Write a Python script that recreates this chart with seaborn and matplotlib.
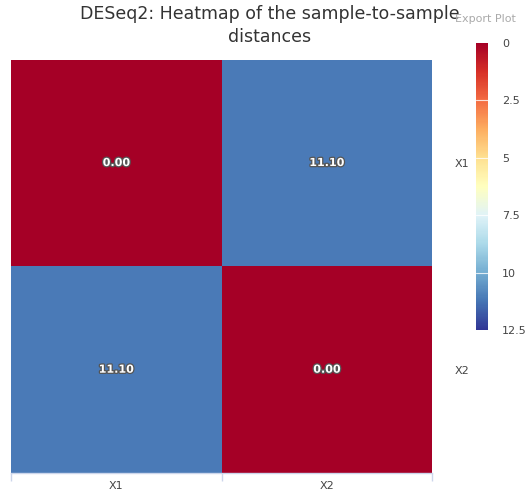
import numpy as np
import pandas as pd
import matplotlib
matplotlib.use('Agg')
import matplotlib.pyplot as plt
import matplotlib.patheffects as pe
import seaborn as sns

## data
samples = ['X1', 'X2']
row_x1 = [0.00, 11.10]
row_x2 = [11.10, 0.00]
cbar_ticks = [0, 2.5, 5, 7.5, 10, 12.5]

dist = pd.DataFrame([row_x1, row_x2], index=samples, columns=samples)

sns.set_style('white')
plt.rcParams['font.family'] = ['DejaVu Sans']

fig = plt.figure(figsize=(5.29, 4.95), dpi=100)
ax = fig.add_axes([0.0208, 0.0444, 0.796, 0.835])
cax = fig.add_axes([0.8998, 0.333, 0.0227, 0.580])

sns.heatmap(dist, ax=ax, cbar_ax=cax, cmap='RdYlBu', vmin=0, vmax=12.5,
            annot=True, fmt='.2f', linewidths=0,
            annot_kws={'color': 'white', 'fontsize': 8, 'fontweight': 'bold',
                       'path_effects': [pe.withStroke(linewidth=1.8, foreground='#555555')]},
            cbar_kws={'ticks': cbar_ticks})

# axes styling
ax.yaxis.tick_right()
ax.tick_params(axis='y', length=0, labelsize=8, labelcolor='#444444', pad=16, rotation=0)
ax.set_xticks([0, 1, 2], minor=False)
ax.set_xticklabels([])
ax.tick_params(axis='x', which='major', bottom=True, length=6, width=1, color='#ccd6eb')
ax.set_xticks([0.5, 1.5], minor=True)
ax.set_xticklabels(samples, minor=True)
ax.tick_params(axis='x', which='minor', bottom=True, length=0, labelsize=8,
               labelcolor='#444444', pad=6)
ax.set_yticks([0.5, 1.5])
ax.set_yticklabels(samples, rotation=0)
ax.set_xlabel('')
ax.set_ylabel('')
for s in ['top', 'left', 'right']:
    ax.spines[s].set_visible(False)
ax.spines['bottom'].set_visible(True)
ax.spines['bottom'].set_color('#ccd6eb')
ax.spines['bottom'].set_linewidth(1)

# colorbar styling
cax.invert_yaxis()
cax.tick_params(length=0, labelsize=8, labelcolor='#444444', pad=10)
cax.set_yticklabels(['0', '2.5', '5', '7.5', '10', '12.5'])
for t in cbar_ticks[1:-1]:
    cax.axhline(t, color='white', linewidth=0.8, alpha=0.8)
for s in cax.spines.values():
    s.set_visible(False)

fig.suptitle('DESeq2: Heatmap of the sample-to-sample\ndistances', x=0.51, y=0.99,
             fontsize=12.5, color='#333333', linespacing=1.35)
fig.text(0.86, 0.955, 'Export Plot', fontsize=8, color='#aaaaaa')

fig.savefig('out.png', dpi=100)
